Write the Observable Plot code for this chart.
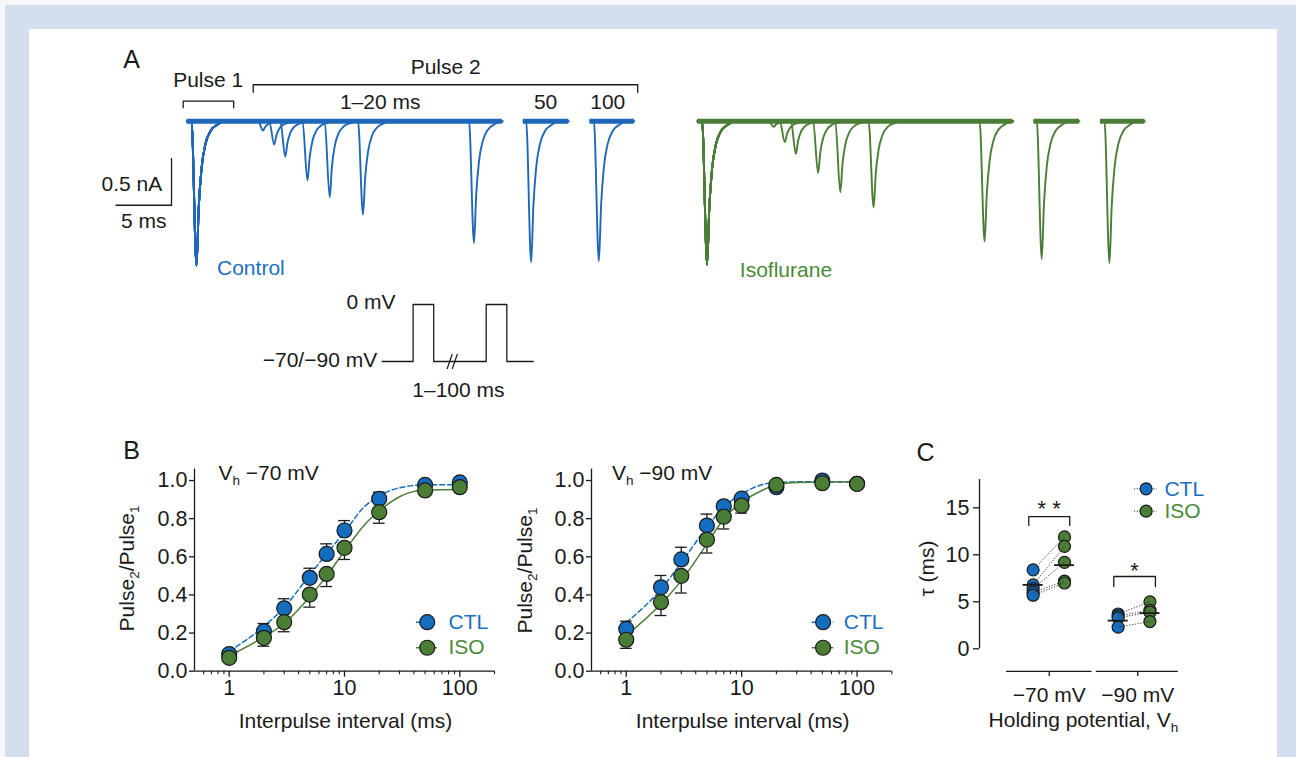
<!DOCTYPE html>
<html><head><meta charset="utf-8">
<script src="https://cdn.jsdelivr.net/npm/d3@7"></script>
<script src="https://cdn.jsdelivr.net/npm/@observablehq/plot@0.6"></script>
<style>
html,body{margin:0;padding:0;background:#f5f7fb;}
#fig{position:relative;width:1296px;height:757px;overflow:hidden;background:#f5f7fb;font-family:"Liberation Sans",Arial,sans-serif;}
#band{position:absolute;left:5px;top:5px;right:0;bottom:0;background:#d5deef;}
#inner{position:absolute;left:29px;top:29px;width:1248px;bottom:0;background:#fff;}
</style></head><body>
<div id="fig"><div id="band"></div><div id="inner"></div></div>
<script>
// ---------------- Panel A data (current traces) ----------------
const intervals = [1, 2, 3, 5, 7, 10, 20, 50, 100];          // interpulse interval, ms
const pulseWidth = 5;                                          // ms
const ctlPulse1 = 1.545;                                       // nA (peak inward current)
const ctlPulse2 = [0.10, 0.25, 0.38, 0.635, 0.815, 1.0, 1.305, 1.51, 1.50];
const isoPulse1 = 1.535;
const isoPulse2 = [0.06, 0.225, 0.35, 0.555, 0.76, 0.925, 1.29, 1.475, 1.52];
const segStart = [-0.4, 29.9, 35.9];                           // displayed time windows (ms)
const segEnd = [28.0, 34.0, 39.9];
const segShift = [0, 24.85, 68.75];                            // real time = displayed + shift
const isoOffset = 46;                                          // isoflurane traces drawn to the right
const tmplT = [0, 0.45, 0.65, 0.9, 1.25, 1.7, 2.3, 2.95];      // transient shape
const tmplV = [0, -1, -0.6, -0.33, -0.16, -0.07, -0.025, 0];
const scaleBarT = [-1.8, -1.8, -6.8];
const scaleBarV = [-0.4, -0.9, -0.9];
const annA = [
  {t: 1.5, v: 0.436, text: "Pulse 1"},
  {t: 22.9, v: 0.578, text: "Pulse 2"},
  {t: 17.0, v: 0.203, text: "1–20 ms"},
  {t: 31.9, v: 0.203, text: "50"},
  {t: 37.5, v: 0.203, text: "100"}
];
const bracketsA = [{t1: -0.75, t2: 3.8, top: 0.214, leg: 0.143}, {t1: 5.56, t2: 40.2, top: 0.39, leg: 0.31}];
// voltage protocol (schematic)
const protoT = [0, 3, 3, 5, 5, 10.1, 10.1, 12.1, 12.1, 14.66];
const protoV = [-80, -80, 0, 0, -80, -80, 0, 0, -80, -80];
const breakT = [6.3, 6.8];

// ---------------- Panel B data ----------------
const intervalsB = [1, 2, 3, 5, 7, 10, 20, 50, 100];
const ctl70 = [0.09, 0.21, 0.33, 0.49, 0.615, 0.738, 0.904, 0.977, 0.99];
const ctl70Err = [0.02, 0.04, 0.05, 0.05, 0.053, 0.052, 0.035, 0.01, 0.01];
const iso70 = [0.07, 0.175, 0.257, 0.402, 0.51, 0.647, 0.834, 0.948, 0.965];
const iso70Err = [0.015, 0.044, 0.05, 0.066, 0.066, 0.061, 0.058, 0.01, 0.01];
const ctl90 = [0.222, 0.44, 0.586, 0.764, 0.865, 0.905, 0.965, 1.0, 0.983];
const ctl90Err = [0.04, 0.062, 0.064, 0.06, 0.025, 0.02, 0.01, 0.005, 0.005];
const iso90 = [0.165, 0.362, 0.50, 0.69, 0.81, 0.869, 0.977, 0.986, 0.983];
const iso90Err = [0.045, 0.07, 0.09, 0.07, 0.064, 0.04, 0.01, 0.01, 0.01];
const fitT = [1, 2, 3, 5, 7, 10, 15, 20, 30, 50, 100];
const fitCtl70 = [0.105, 0.235, 0.335, 0.505, 0.615, 0.73, 0.865, 0.92, 0.962, 0.977, 0.978];
const fitIso70 = [0.08, 0.18, 0.25, 0.39, 0.50, 0.63, 0.77, 0.84, 0.915, 0.95, 0.953];
const fitCtl90 = [0.255, 0.43, 0.57, 0.755, 0.86, 0.93, 0.978, 0.99, 0.993, 0.993, 0.993];
const fitIso90 = [0.187, 0.353, 0.475, 0.668, 0.80, 0.886, 0.948, 0.978, 0.99, 0.992, 0.992];
const yTicksB = [0, 0.2, 0.4, 0.6, 0.8, 1.0];
const majorX = [1, 10, 100];
const minorX = [0.6, 0.7, 0.8, 0.9, 2, 3, 4, 5, 6, 7, 8, 9, 20, 30, 40, 50, 60, 70, 80, 90, 200];
const legNames = ["CTL", "ISO"];
const legYB = [0.257, 0.123];

// ---------------- Panel C data ----------------
const groupsC = ["−70 mV", "−90 mV"];
const ctlTau70 = [8.4, 6.8, 6.4, 6.0, 5.7];
const isoTau70 = [11.9, 10.9, 9.2, 7.2, 7.0];
const ctlTau90 = [3.7, 3.5, 3.3, 2.3];
const isoTau90 = [5.0, 4.1, 3.9, 2.9];
const meanCtl = [6.8, 3.0];
const meanIso = [8.9, 3.8];
const ctlXC = [-0.185, 0.79];
const isoXC = [0.175, 1.155];
const tickXC = [0, 1.015];
const catSegX1 = [-0.49, 0.54];
const catSegX2 = [0.49, 1.48];
const yTicksC = [0, 5, 10, 15];
const sigC = [
  {x1: -0.235, x2: 0.235, top: 14.07, leg: 13.12, label: "* *", tx: 0, ty: 14.87},
  {x1: 0.74, x2: 1.218, top: 7.69, leg: 6.63, label: "*", tx: 0.977, ty: 8.33}
];
const legYC = [17.02, 14.64];

// ---------------- style ----------------
const ink = "#1a1a1a";
const blueLine = "#1f67b9", greenLine = "#4b7d37";
const blueFill = "#146dbe", greenFill = "#4b7e35";
const blueText = "#1a70c1", greenText = "#4a8a3a";
const FONT = '"Liberation Sans", Arial, Helvetica, sans-serif';
const baseStyle = {fontFamily: FONT, fontSize: "21px", color: ink, background: "transparent", overflow: "visible"};
const fig = document.getElementById("fig");

function subscripts(svg) {
  svg.querySelectorAll("text").forEach(t => {
    const s = t.textContent;
    if (!s.includes("_")) return;
    const parts = s.split(/_(.)/);
    t.textContent = "";
    parts.forEach((p, i) => {
      if (!p) return;
      const ts = document.createElementNS("http://www.w3.org/2000/svg", "tspan");
      ts.textContent = p;
      if (i % 2 === 1) { ts.setAttribute("dy", "5"); ts.setAttribute("font-size", "13.5px"); }
      else if (i > 0) ts.setAttribute("dy", "-5");
      t.appendChild(ts);
    });
  });
}
function place(svg, left, top) {
  svg.style.position = "absolute";
  svg.style.left = left + "px";
  svg.style.top = top + "px";
  svg.style.maxWidth = "none";
  subscripts(svg);
  fig.appendChild(svg);
}

// ---------------- Panel A ----------------
const segOf = iv => iv <= 20 ? 0 : iv <= 50 ? 1 : 2;
function transient(onset, amp, end) {
  return tmplT.map((t, i) => ({t: onset + t, v: amp * tmplV[i]})).filter(p => p.t < end);
}
function sweeps(offset, p1, p2) {
  const rows = [];
  intervals.forEach((iv, k) => {
    const seg = segOf(iv);
    const on2 = pulseWidth + iv - segShift[seg];
    const a = [{t: segStart[0], v: 0}, ...transient(0, p1, segEnd[0])];
    if (seg === 0) a.push(...transient(on2, p2[k], segEnd[0]));
    a.push({t: segEnd[0], v: 0});
    a.forEach(p => rows.push({id: k + "a", t: p.t + offset, v: p.v}));
    if (seg > 0) {
      [{t: segStart[seg], v: 0}, ...transient(on2, p2[k], segEnd[seg]), {t: segEnd[seg], v: 0}]
        .forEach(p => rows.push({id: k + "b", t: p.t + offset, v: p.v}));
    }
  });
  return rows;
}
const ctlRowsA = sweeps(0, ctlPulse1, ctlPulse2);
const isoRowsA = sweeps(isoOffset, isoPulse1, isoPulse2);
const bandCtl = segStart.map((s, i) => ({x1: s, x2: segEnd[i]}));
const bandIso = segStart.map((s, i) => ({x1: s + isoOffset, x2: segEnd[i] + isoOffset}));
const scaleBar = scaleBarT.map((t, i) => ({t, v: scaleBarV[i]}));
const brLines = bracketsA.flatMap((b, i) => [
  {id: i, t: b.t1, v: b.leg}, {id: i, t: b.t1, v: b.top}, {id: i, t: b.t2, v: b.top}, {id: i, t: b.t2, v: b.leg}]);

const plotA = Plot.plot({
  width: 1110, height: 250, margin: 0,
  x: {domain: [-10, 90], axis: null},
  y: {domain: [-1.813, 0.864], axis: null},
  style: baseStyle,
  marks: [
    Plot.ruleY(bandCtl, {y: 0, x1: "x1", x2: "x2", stroke: blueLine, strokeWidth: 5}),
    Plot.ruleY(bandIso, {y: 0, x1: "x1", x2: "x2", stroke: greenLine, strokeWidth: 5}),
    Plot.line(ctlRowsA, {x: "t", y: "v", z: "id", stroke: blueLine, strokeWidth: 1.9, curve: "monotone-x"}),
    Plot.line(isoRowsA, {x: "t", y: "v", z: "id", stroke: greenLine, strokeWidth: 1.9, curve: "monotone-x"}),
    Plot.line(scaleBar, {x: "t", y: "v", stroke: ink, strokeWidth: 1.3}),
    Plot.line(brLines, {x: "t", y: "v", z: "id", stroke: ink, strokeWidth: 1.3}),
    Plot.text(annA, {x: "t", y: "v", text: "text", fill: ink}),
    Plot.text(["A"], {x: -5.4, y: 0.65, fontSize: 25, fill: ink}),
    Plot.text(["0.5 nA"], {x: -2.64, y: -0.678, textAnchor: "end", fill: ink}),
    Plot.text(["5 ms"], {x: -4.3, y: -1.07, fill: ink}),
    Plot.text(["Control"], {x: 2.3, y: -1.577, textAnchor: "start", fill: blueText}),
    Plot.text(["Isoflurane"], {x: 49.4, y: -1.6, textAnchor: "start", fill: greenText})
  ]
});
place(plotA, 80, 40);

const protoRows = protoT.map((t, i) => ({t, v: protoV[i]}));
const breakRows = breakT.map(t => ({x1: t, y1: -90.5, x2: t + 0.5, y2: -69.5}));
const plotP = Plot.plot({
  width: 320, height: 125, marginLeft: 141.7, marginRight: 27.3, marginTop: 11.875, marginBottom: 6.25,
  x: {domain: [0, 14.66], axis: null},
  y: {domain: [-140, 10], axis: null},
  style: baseStyle,
  marks: [
    Plot.line(protoRows, {x: "t", y: "v", stroke: ink, strokeWidth: 1.3}),
    Plot.link(breakRows, {x1: "x1", y1: "y1", x2: "x2", y2: "y2", stroke: ink, strokeWidth: 1.2}),
    Plot.text(["0 mV"], {x: 1.29, y: 3.2, textAnchor: "end", fill: ink}),
    Plot.text(["−70/−90 mV"], {x: -0.49, y: -78.6, textAnchor: "end", fill: ink}),
    Plot.text(["1–100 ms"], {x: 7.4, y: -120.7, fill: ink})
  ]
});
place(plotP, 240, 285);

// ---------------- Panel B ----------------
const capK = 1.125;
function panelB(cfg) {
  const ctlRows = intervalsB.map((x, i) => ({x, y: cfg.ctl[i], e: cfg.ctlErr[i]}));
  const isoRows = intervalsB.map((x, i) => ({x, y: cfg.iso[i], e: cfg.isoErr[i]}));
  const fitC = fitT.map((x, i) => ({x, y: cfg.fitCtl[i]}));
  const fitI = fitT.map((x, i) => ({x, y: cfg.fitIso[i]}));
  const leg = legNames.map((name, i) => ({name, y: legYB[i]}));
  return Plot.plot({
    width: 400, height: 300, marginLeft: cfg.mL, marginRight: cfg.mR, marginTop: 28.6, marginBottom: 69.3,
    x: {type: "log", domain: [0.5, 200]},
    y: {domain: [0, 1.06]},
    style: baseStyle,
    marks: [
      Plot.ruleY([0], {x1: 0.5, x2: 200, stroke: ink, strokeWidth: 1.3}),
      Plot.ruleX([0.5], {y1: 0, y2: 1.06, stroke: ink, strokeWidth: 1.3}),
      Plot.axisY(yTicksB, {tickSize: 5, tickPadding: 2, tickFormat: d3.format(".1f"), label: null, strokeWidth: 1.3, fontSize: 21.5}),
      Plot.axisX(majorX, {tickSize: 6, tickPadding: 3, tickFormat: d => String(d), label: null, strokeWidth: 1.3, fontSize: 21.5}),
      Plot.axisX(minorX, {tickSize: 3.5, tickFormat: () => "", label: null, strokeWidth: 1.1}),
      Plot.line(fitC, {x: "x", y: "y", curve: "monotone-x", stroke: blueFill, strokeWidth: 1.5, strokeDasharray: "5,3"}),
      Plot.line(fitI, {x: "x", y: "y", curve: "monotone-x", stroke: greenLine, strokeWidth: 1.5}),
      Plot.ruleX(ctlRows, {x: "x", y1: "y", y2: d => d.y + d.e, stroke: ink, strokeWidth: 1.3}),
      Plot.ruleY(ctlRows, {y: d => d.y + d.e, x1: d => d.x / capK, x2: d => d.x * capK, stroke: ink, strokeWidth: 1.3}),
      Plot.ruleX(isoRows, {x: "x", y1: d => d.y - d.e, y2: "y", stroke: ink, strokeWidth: 1.3}),
      Plot.ruleY(isoRows, {y: d => d.y - d.e, x1: d => d.x / capK, x2: d => d.x * capK, stroke: ink, strokeWidth: 1.3}),
      Plot.dot(ctlRows, {x: "x", y: "y", r: 7.5, fill: blueFill, stroke: ink, strokeWidth: 1.2}),
      Plot.dot(isoRows, {x: "x", y: "y", r: 7.5, fill: greenFill, stroke: ink, strokeWidth: 1.2}),
      // legend
      Plot.ruleY([leg[0]], {y: "y", x1: cfg.legL1, x2: cfg.legL2, stroke: blueFill, strokeWidth: 1.5, strokeDasharray: "4,3"}),
      Plot.ruleY([leg[1]], {y: "y", x1: cfg.legL1, x2: cfg.legL2, stroke: greenLine, strokeWidth: 1.5}),
      Plot.dot([leg[0]], {x: cfg.legX, y: "y", r: 7.5, fill: blueFill, stroke: ink, strokeWidth: 1.2}),
      Plot.dot([leg[1]], {x: cfg.legX, y: "y", r: 7.5, fill: greenFill, stroke: ink, strokeWidth: 1.2}),
      Plot.text([leg[0]], {x: cfg.legTX, y: "y", text: "name", textAnchor: "start", fill: blueText}),
      Plot.text([leg[1]], {x: cfg.legTX, y: "y", text: "name", textAnchor: "start", fill: greenText}),
      // labels
      Plot.text([cfg.vh], {x: cfg.vhX, y: 1.037, textAnchor: "start", fill: ink}),
      Plot.text(["Pulse_2/Pulse_1"], {x: cfg.yLabX, y: cfg.yLabY, rotate: -90, fill: ink}),
      Plot.text(["Interpulse interval (ms)"], {x: 10.2, y: -0.26, fill: ink}),
      ...(cfg.letter ? [Plot.text([cfg.letter], {x: 0.142, y: 1.157, fontSize: 25, fill: ink})] : [])
    ]
  });
}
place(panelB({mL: 94, mR: 6, ctl: ctl70, ctlErr: ctl70Err, iso: iso70, isoErr: iso70Err,
  fitCtl: fitCtl70, fitIso: fitIso70, vh: "V_h −70 mV", vhX: 0.807, yLabX: 0.131, yLabY: 0.539,
  legX: 52.2, legL1: 42.1, legL2: 64.1, legTX: 79.8, letter: "B"}), 100, 440);
place(panelB({mL: 91, mR: 8.7, ctl: ctl90, ctlErr: ctl90Err, iso: iso90, isoErr: iso90Err,
  fitCtl: fitCtl90, fitIso: fitIso90, vh: "V_h −90 mV", vhX: 0.751, yLabX: 0.133, yLabY: 0.528,
  legX: 50.8, legL1: 40.8, legL2: 62.8, legTX: 76.7, letter: null}), 500, 440);

// ---------------- Panel C ----------------
const cCtl = [], cIso = [], cPairs = [];
[[ctlTau70, isoTau70], [ctlTau90, isoTau90]].forEach(([c, s], g) => {
  c.forEach((v, i) => {
    cCtl.push({x: ctlXC[g], y: v});
    cIso.push({x: isoXC[g], y: s[i]});
    cPairs.push({x1: ctlXC[g], y1: v, x2: isoXC[g], y2: s[i]});
  });
});
const cMeans = [
  ...meanCtl.map((m, g) => ({x: ctlXC[g], y: m})),
  ...meanIso.map((m, g) => ({x: isoXC[g], y: m}))
];
const catAxisY = -2.41;
const catRows = groupsC.map((name, g) => ({name, x: tickXC[g], x1: catSegX1[g], x2: catSegX2[g]}));
const sigLines = sigC.flatMap((b, i) => [
  {id: i, x: b.x1, y: b.leg}, {id: i, x: b.x1, y: b.top}, {id: i, x: b.x2, y: b.top}, {id: i, x: b.x2, y: b.leg}]);
const legC = legNames.map((name, i) => ({name, y: legYC[i]}));
const plotC = Plot.plot({
  width: 320, height: 300, marginLeft: 79, marginRight: 5.6, marginTop: 39.1, marginBottom: 91.7,
  x: {domain: [-0.8, 1.9], axis: null},
  y: {domain: [0, 18]},
  style: baseStyle,
  marks: [
    Plot.ruleX([-0.8], {y1: 0, y2: 18, stroke: ink, strokeWidth: 1.3}),
    Plot.axisY(yTicksC, {tickSize: 6, tickPadding: 4, label: null, strokeWidth: 1.3, fontSize: 21.5}),
    Plot.ruleY(catRows, {y: catAxisY, x1: "x1", x2: "x2", stroke: ink, strokeWidth: 1.3}),
    Plot.ruleX(catRows, {x: "x", y1: catAxisY, y2: catAxisY - 0.55, stroke: ink, strokeWidth: 1.3}),
    Plot.text(catRows, {x: "x", y: -4.95, text: "name", fill: ink}),
    Plot.text(["Holding potential, V_h"], {x: 0.392, y: -7.63, fill: ink}),
    Plot.text(["τ (ms)"], {x: -1.4, y: 8.54, rotate: -90, fill: ink}),
    Plot.text(["C"], {x: -1.42, y: 20.88, fontSize: 25, fill: ink}),
    Plot.line(sigLines, {x: "x", y: "y", z: "id", stroke: ink, strokeWidth: 1.3}),
    Plot.text(sigC, {x: "tx", y: "ty", text: "label", fill: ink, fontSize: 22}),
    Plot.dot(cCtl, {x: "x", y: "y", r: 6, fill: blueFill, stroke: ink, strokeWidth: 1.2}),
    Plot.dot(cIso, {x: "x", y: "y", r: 6, fill: greenFill, stroke: ink, strokeWidth: 1.2}),
    Plot.link(cPairs, {x1: "x1", y1: "y1", x2: "x2", y2: "y2", stroke: "#333", strokeWidth: 1, strokeDasharray: "1.2,1.6"}),
    Plot.ruleY(cMeans, {y: "y", x1: d => d.x - 0.115, x2: d => d.x + 0.115, stroke: ink, strokeWidth: 1.8}),
    // legend
    Plot.ruleY(legC, {y: "y", x1: 0.977, x2: 1.24, stroke: "#333", strokeWidth: 1, strokeDasharray: "1.2,1.6"}),
    Plot.dot([legC[0]], {x: 1.111, y: "y", r: 6, fill: blueFill, stroke: ink, strokeWidth: 1.2}),
    Plot.dot([legC[1]], {x: 1.111, y: "y", r: 6, fill: greenFill, stroke: ink, strokeWidth: 1.2}),
    Plot.text([legC[0]], {x: 1.321, y: "y", text: "name", textAnchor: "start", fill: blueText}),
    Plot.text([legC[1]], {x: 1.321, y: "y", text: "name", textAnchor: "start", fill: greenText})
  ]
});
place(plotC, 900, 440);
</script>
</body></html>
